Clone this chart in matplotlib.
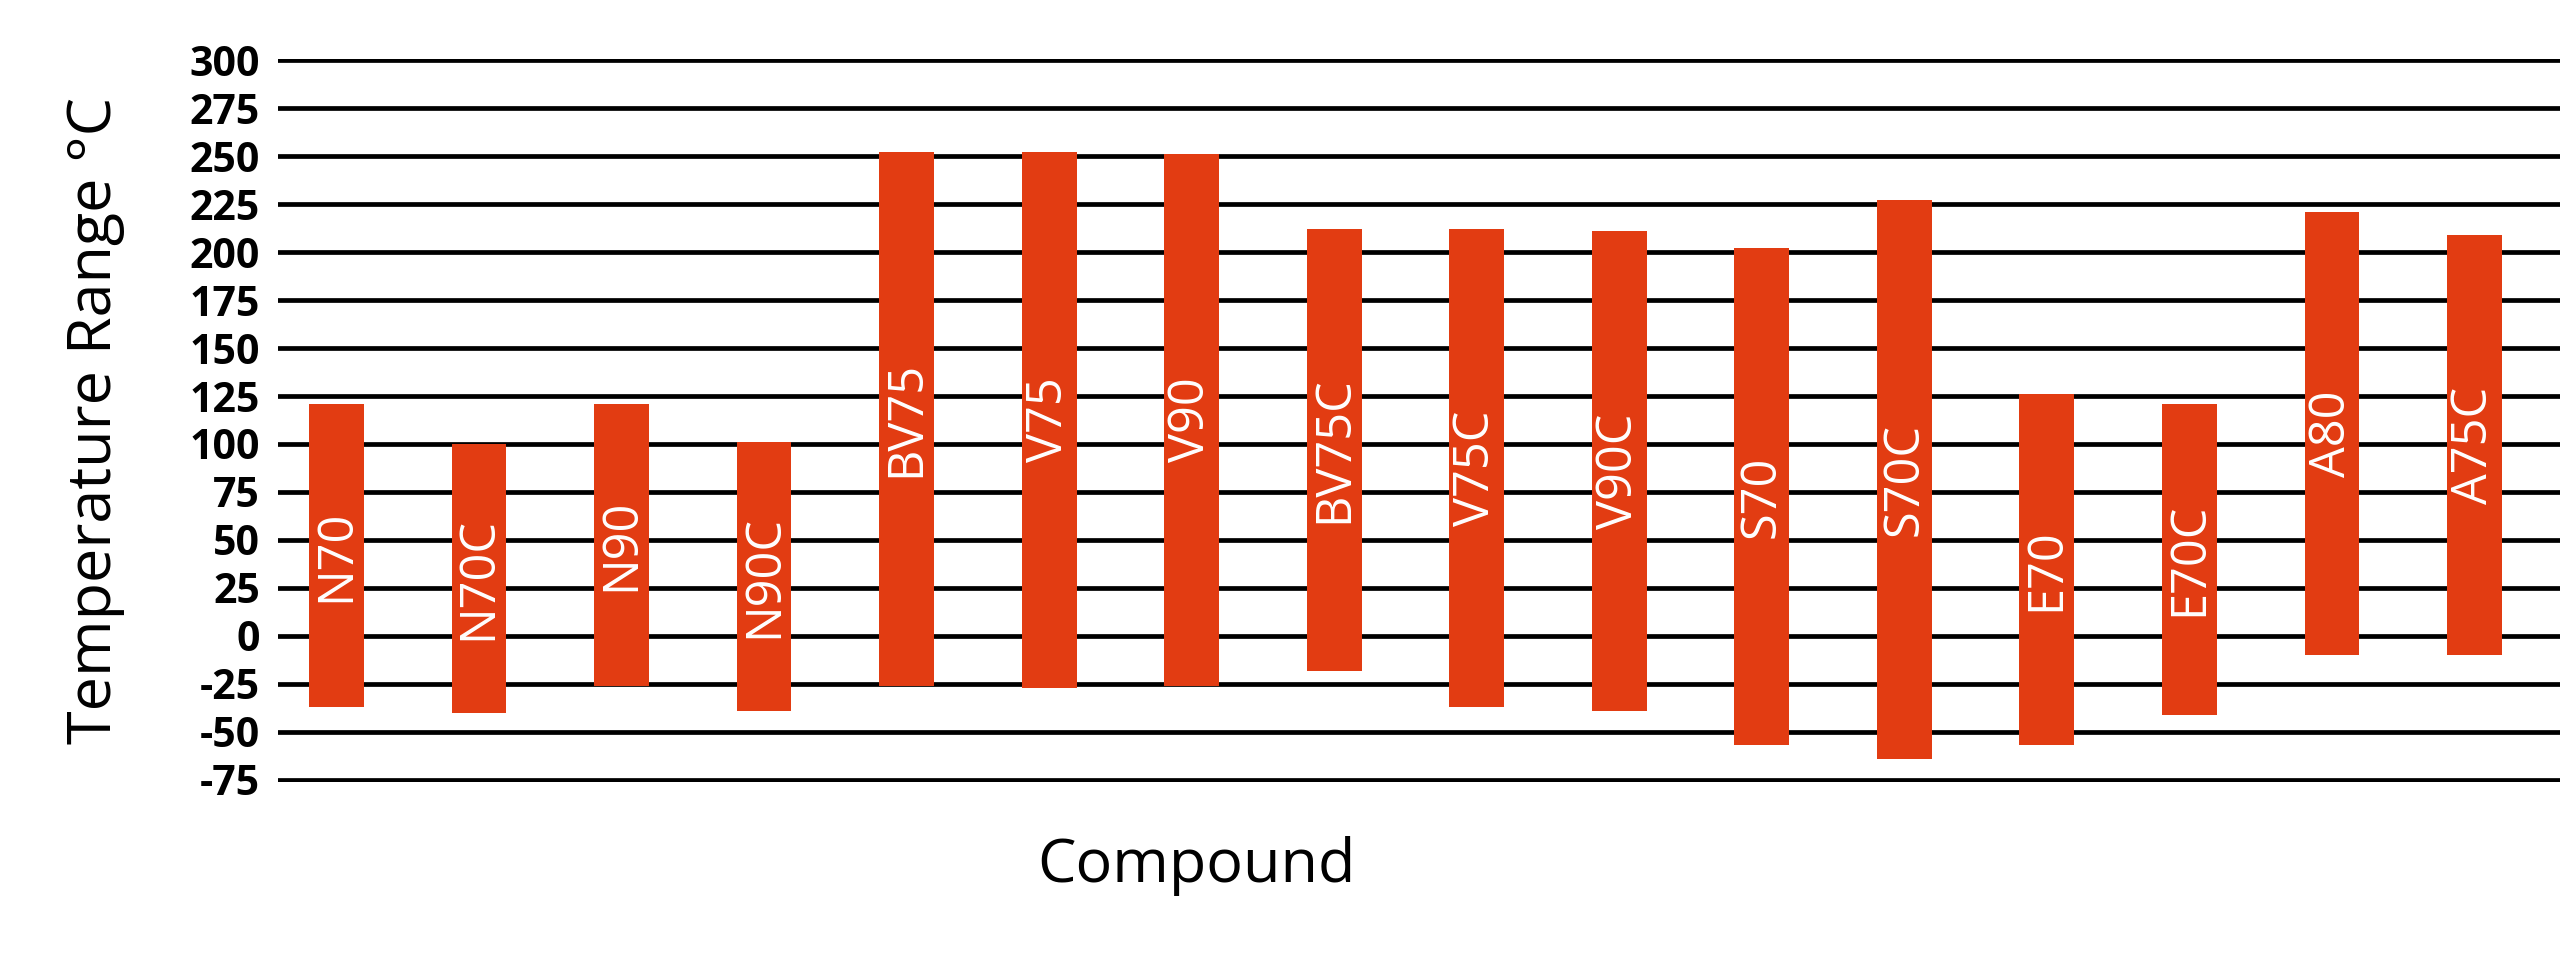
import matplotlib.pyplot as plt
import numpy as np

# compounds and their temperature ranges (deg C)
compounds = ["N70", "N70C", "N90", "N90C", "BV75", "V75", "V90", "BV75C",
             "V75C", "V90C", "S70", "S70C", "E70", "E70C", "A80", "A75C"]
low_temp = [-37, -40, -26, -39, -26, -27, -26, -18,
            -37, -39, -57, -64, -57, -41, -10, -10]
high_temp = [121, 100, 121, 101, 252, 252, 251, 212,
             212, 211, 202, 227, 126, 121, 221, 209]
yticks = list(range(-75, 301, 25))

bar_color = "#E23C12"
font = ["Open Sans", "DejaVu Sans"]

fig = plt.figure(figsize=(25.6, 9.59), dpi=100)
# axes placed in pixel terms: left 278, right 2560, y 300 at 60, -75 at 780
ax = fig.add_axes([278 / 2560, 1 - 781.5 / 959, (2560 - 278) / 2560, (781.5 - 58.5) / 959])

x = np.arange(len(compounds))
low = np.array(low_temp)
high = np.array(high_temp)

for t in yticks:
    ax.axhline(t, color="black", lw=3.4, zorder=1)

ax.bar(x, high - low, bottom=low, width=0.385, color=bar_color, zorder=2)

for xi, name, lo, hi in zip(x, compounds, low, high):
    ax.text(xi, (lo + hi) / 2, name, rotation=90, color="white",
            ha="center", va="center", fontsize=35, family=font, zorder=3)

ax.set_xlim(-0.41, 15.6)
ax.set_ylim(-75.8, 300.8)
ax.set_xticks([])
ax.set_yticks(yticks)
ax.set_yticklabels([str(t) for t in yticks])
ax.tick_params(axis="y", length=0, pad=13)
for lab in ax.get_yticklabels():
    lab.set_family(font)
    lab.set_fontweight("bold")
    lab.set_fontsize(29.5)
for s in ax.spines.values():
    s.set_visible(False)

fig.text(95 / 2560, 1 - 420 / 959, "Temperature Range °C", rotation=90,
         ha="center", va="center", fontsize=44, family=font)
fig.text(1196 / 2560, 1 - 866 / 959, "Compound", ha="center", va="center",
         fontsize=44, family=font)

fig.savefig("out.png", dpi=100)
